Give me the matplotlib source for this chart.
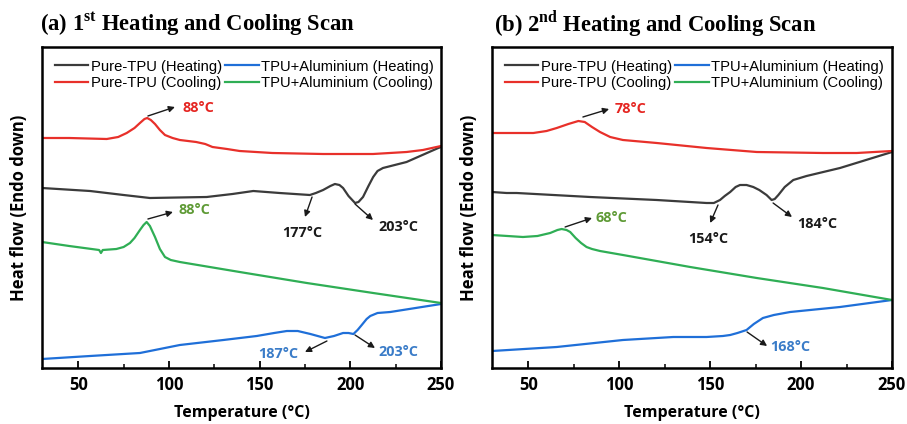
import numpy as np
import matplotlib
matplotlib.use('Agg')
import matplotlib.pyplot as plt
from matplotlib.ticker import MultipleLocator

plt.rcParams['mathtext.fontset'] = 'custom'
plt.rcParams['mathtext.rm'] = 'Liberation Serif:bold'
plt.rcParams['mathtext.bf'] = 'Liberation Serif:bold'

"""
DATA (read off the picture, heat flow in arbitrary units)
"""

# panel (a) - 1st scan
a_red_T = [30, 45, 65.7, 72, 76.7, 81, 84, 86.5, 88, 90, 92.3, 95, 97.8, 102, 106, 115, 120, 124, 132, 139, 157, 185, 212.5, 231, 240, 250]
a_red_y = [230, 230, 229, 231, 235, 240, 245, 249, 250, 248, 244, 238, 233, 230, 228, 226, 224, 221, 219, 217, 215, 214, 214, 216, 218, 222]

a_black_T = [30, 56.5, 75, 89.5, 120.8, 135, 146.5, 161, 177.7, 181, 185, 189, 191.5, 194, 196, 199, 202.6, 204.5, 207, 210, 212.6, 215, 218, 231, 248.5, 250]
a_black_y = [180, 177, 173, 170, 171, 174, 177, 175, 173, 175, 178, 182, 184, 183, 180, 172, 165, 166, 171, 182, 191, 197, 200, 206, 220, 221]

a_green_T = [30, 45, 61.5, 62.5, 63.5, 71, 75, 78.5, 81, 84, 86, 87.7, 89.5, 92.3, 95, 97.8, 101, 106, 139, 176, 212.6, 250]
a_green_y = [126, 122, 118, 115, 118, 119, 121, 125, 130, 138, 143, 146, 142, 131, 119, 111, 108, 106, 96, 85, 75, 65]

a_blue_T = [30, 56.5, 84, 95, 106, 130, 148.4, 158, 165, 171, 178, 186, 191, 196, 199, 201.7, 204, 206.3, 209, 211, 215, 222, 250]
a_blue_y = [9, 12, 15, 19, 23, 28, 32, 35, 37, 37, 34, 30, 32, 35, 35, 34, 38, 43, 49, 52, 55, 56, 64]

# panel (b) - 2nd scan
b_red_T = [30, 52.7, 60, 65.6, 72, 77.5, 81, 85, 89.4, 95, 102, 120.6, 148, 175.6, 212, 230.6, 250]
b_red_y = [235, 235, 237, 240, 244, 247, 246, 241, 236, 231, 228, 225, 220, 216, 215, 215, 217]

b_black_T = [30, 38, 43.6, 84, 120.6, 148, 152, 155.4, 158, 161, 164, 166.4, 170, 173.7, 177, 181, 183.8, 185.5, 187.5, 191, 195.7, 203, 221.4, 250]
b_black_y = [176, 175, 175, 171, 168, 165, 165, 168, 172, 176, 181, 183, 183, 181, 178, 173, 168, 169, 173, 181, 188, 192, 200, 216]

b_green_T = [30, 47, 55, 62, 66, 68.3, 71, 73, 76, 79, 82, 85, 89.4, 102, 139, 175.6, 212, 250]
b_green_y = [133, 131, 132, 135, 138, 139, 138, 136, 130, 125, 121, 119, 117, 113, 101, 90, 80, 68]

b_blue_T = [30, 65.6, 102, 129.7, 148, 157, 161, 165, 170, 174, 179, 185, 194, 221.4, 250]
b_blue_y = [17, 21, 28, 31, 31, 32, 33, 35, 38, 44, 50, 53, 56, 61, 68]

legend_labels = ['Pure-TPU (Heating)', 'Pure-TPU (Cooling)', 'TPU+Aluminium (Heating)', 'TPU+Aluminium (Cooling)']

# annotations: text, tail (x, y), head (x, y), text (x, y), colour, ha
a_notes = [('88°C', (88.4, 252), (103.3, 261), (107.5, 260), '#e52521', 'left'),
           ('88°C', (88.4, 149), (102.2, 156), (105, 158), '#5e9a35', 'left'),
           ('177°C', (178.9, 171), (175, 151), (173.4, 135), '#1a1a1a', 'center'),
           ('203°C', (202.6, 164), (212.5, 148), (226.3, 141), '#1a1a1a', 'center'),
           ('187°C', (187.1, 27), (175, 16), (160, 14), '#3a7cc8', 'center'),
           ('203°C', (202.6, 33), (213.6, 20), (226.3, 16), '#3a7cc8', 'center')]
b_notes = [('78°C', (80, 251), (94.4, 259), (97.7, 259), '#e52521', 'left'),
           ('68°C', (70.2, 141), (85, 150), (87.2, 150), '#5e9a35', 'left'),
           ('154°C', (154.3, 163), (150, 145), (148.8, 129), '#1a1a1a', 'center'),
           ('184°C', (184.6, 165), (195, 151), (208.8, 144), '#1a1a1a', 'center'),
           ('168°C', (170.3, 36), (181.3, 22), (193.9, 21), '#3a7cc8', 'center')]

c_black = '#3b3b3b'
c_red = '#e8302a'
c_blue = '#1f6fd8'
c_green = '#2fae55'


def draw_panel(ax, title_x, title, red, black, green, blue, notes):
    ax.plot(black[0], black[1], color=c_black, lw=1.6, label=legend_labels[0])
    ax.plot(red[0], red[1], color=c_red, lw=1.6, label=legend_labels[1])
    ax.plot(blue[0], blue[1], color=c_blue, lw=1.6, label=legend_labels[2])
    ax.plot(green[0], green[1], color=c_green, lw=1.6, label=legend_labels[3])

    ax.set_xlim(30, 250)
    ax.set_ylim(0, 321)
    ax.set_yticks([])
    ax.xaxis.set_major_locator(MultipleLocator(50))
    ax.xaxis.set_minor_locator(MultipleLocator(25))
    ax.tick_params(axis='x', which='major', direction='in', length=5, width=1.3, pad=6)
    ax.tick_params(axis='x', which='minor', direction='in', length=3, width=1.1)
    for lab in ax.get_xticklabels():
        lab.set_fontfamily('Open Sans')
        lab.set_fontweight('bold')
        lab.set_fontsize(12)
    for s in ax.spines.values():
        s.set_linewidth(1.8)

    ax.set_xlabel('Temperature (°C)', family='Open Sans', weight='bold', fontsize=11.5, labelpad=8)
    ax.set_ylabel('Heat flow (Endo down)', family='Open Sans', weight='bold', fontsize=12, labelpad=10)

    ax.legend(loc='upper left', ncol=2, frameon=False, prop={'family': 'Liberation Sans', 'size': 10.6},
              handlelength=2.25, handletextpad=0.2, columnspacing=0.25, labelspacing=0.15,
              borderaxespad=0.45, bbox_to_anchor=(0.0, 1.0))

    for text, tail, head, pos, col, ha in notes:
        ax.annotate('', xy=head, xytext=tail,
                    arrowprops=dict(arrowstyle='-|>', color='#1a1a1a', lw=1.0, mutation_scale=9,
                                    shrinkA=0, shrinkB=0))
        ax.text(pos[0], pos[1], text, color=col, ha=ha, va='center', family='Open Sans',
                weight='bold', fontsize=10.4)

    ax.figure.text(title_x, 1 - 24 / 424, title, family='Liberation Serif', weight='bold',
                   fontsize=16.3, ha='left', va='center')


fig = plt.figure(figsize=(9.07, 4.24), dpi=100)
ax1 = fig.add_axes([42 / 907, 56 / 424, 399 / 907, 321 / 424])
ax2 = fig.add_axes([492 / 907, 56 / 424, 400 / 907, 321 / 424])

draw_panel(ax1, 40 / 907, r'(a) 1$^{\mathrm{st}}$ Heating and Cooling Scan',
           (a_red_T, a_red_y), (a_black_T, a_black_y), (a_green_T, a_green_y), (a_blue_T, a_blue_y), a_notes)
draw_panel(ax2, 494 / 907, r'(b) 2$^{\mathrm{nd}}$ Heating and Cooling Scan',
           (b_red_T, b_red_y), (b_black_T, b_black_y), (b_green_T, b_green_y), (b_blue_T, b_blue_y), b_notes)

fig.savefig('out.png', dpi=100)
